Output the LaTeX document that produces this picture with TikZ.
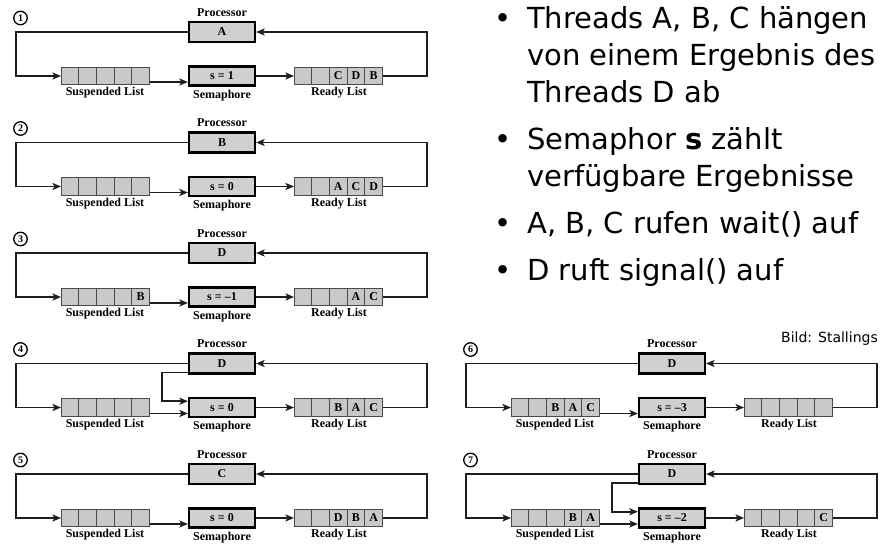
\documentclass[tikz,border=0pt]{standalone}
\usepackage{fontspec}
\setmainfont{Liberation Serif}
\newfontfamily\bfont{DejaVu Sans}
\usetikzlibrary{arrows.meta}
\definecolor{boxgray}{HTML}{D0D0D0}
\definecolor{cellgray}{HTML}{C8C8C8}
\definecolor{linegray}{HTML}{1E1E1E}
\definecolor{celledge}{HTML}{4A4A4A}
\tikzset{
  lbl/.style={font=\fontsize{12}{12}\selectfont\bfseries, inner sep=0pt},
  mainbox/.style={draw=black, line width=2.2pt, fill=boxgray, minimum width=66pt, minimum height=20pt, inner sep=0pt, font=\fontsize{12}{12}\selectfont\bfseries},
  cellbox/.style={draw=celledge, line width=0.9pt, fill=cellgray, minimum width=17.7pt, minimum height=17.5pt, inner sep=0pt, outer sep=0pt, font=\fontsize{12}{12}\selectfont\bfseries},
  conn/.style={draw=linegray, line width=1.7pt},
  arr/.style={conn, -{Stealth[length=8.5pt,width=7pt,inset=2pt]}},
  numcirc/.style={circle, draw=black, line width=1.3pt, minimum size=13.5pt, inner sep=0pt, font=\fontsize{10}{10}\selectfont\bfseries},
  btxt/.style={anchor=base west, inner sep=0pt, font=\fontsize{29}{29}\selectfont\bfont},
  bdot/.style={anchor=base, inner sep=0pt, font=\fontsize{29}{29}\selectfont\bfont},
}
\newcommand\cellrow[8]{%
  \node[cellbox, anchor=west] (#1c1) at (#2,#3) {#4};
  \node[cellbox, anchor=west] (#1c2) at (#1c1.east) {#5};
  \node[cellbox, anchor=west] (#1c3) at (#1c2.east) {#6};
  \node[cellbox, anchor=west] (#1c4) at (#1c3.east) {#7};
  \node[cellbox, anchor=west] (#1c5) at (#1c4.east) {#8};
}
\newcommand\sempanel[7]{%
  \begin{scope}[shift={(#2,#3)}]
    \node[numcirc] (p#1n) at (20.5,18) {#1};
    \node[lbl] (p#1pl) at (222,12.5) {Processor};
    \node[mainbox] (p#1proc) at (222,32) {#4};
    \node[mainbox, minimum height=19pt] (p#1sem) at (222,76) {#5};
    \cellrow{p#1s}{61}{76}#6
    \cellrow{p#1r}{294}{76}#7
    \node[lbl] (p#1sl) at (105,93) {Suspended List};
    \node[lbl] (p#1seml) at (222,95.5) {Semaphore};
    \node[lbl] (p#1rl) at (339,93) {Ready List};
    \coordinate (p#1L) at (16,32);
    \coordinate (p#1R) at (427,32);
    \coordinate (p#1I) at (162,69.7);
  \end{scope}
  \draw[arr] (p#1proc.west) -- (p#1L) |- (p#1sc1.west);
  \draw[arr] ([yshift=-6pt]p#1sc5.east) -- ([yshift=-6pt]p#1sem.west);
  \draw[arr] (p#1sem.east) -- (p#1rc1.west);
  \draw[arr] (p#1rc5.east) -| (p#1R) -- (p#1proc.east);
}
\newcommand\innerconn[1]{%
  \draw[arr] ([yshift=2pt]p#1proc.south west) -| (p#1I) -- ([yshift=6.3pt]p#1sem.west);
}
\begin{document}
\begin{tikzpicture}[x=1pt,y=-1pt]
  \fill[white] (0,0) rectangle (881,545);
  \useasboundingbox (0,0) rectangle (881,545);

  \sempanel{1}{0}{0}{A}{s = 1}{{}{}{}{}{}}{{}{}{C}{D}{B}}
  \sempanel{2}{0}{110.5}{B}{s = 0}{{}{}{}{}{}}{{}{}{A}{C}{D}}
  \sempanel{3}{0}{221}{D}{s = –1}{{}{}{}{}{B}}{{}{}{}{A}{C}}
  \sempanel{4}{0}{331.5}{D}{s = 0}{{}{}{}{}{}}{{}{}{B}{A}{C}}
  \innerconn{4}
  \sempanel{5}{0}{442}{C}{s = 0}{{}{}{}{}{}}{{}{}{D}{B}{A}}
  \sempanel{6}{450}{331.5}{D}{s = –3}{{}{}{B}{A}{C}}{{}{}{}{}{}}
  \sempanel{7}{450}{442}{D}{s = –2}{{}{}{}{B}{A}}{{}{}{}{}{C}}
  \innerconn{7}

  \node[bdot] (d1) at (503,29) {•};
  \node[btxt] (t1) at (527,29) {Threads A, B, C hängen};
  \node[btxt] (t2) at (527,66) {von einem Ergebnis des};
  \node[btxt] (t3) at (527,103) {Threads D ab};
  \node[bdot] (d2) at (503,150) {•};
  \node[btxt] (t4) at (527,150) {Semaphor {\bfseries s} zählt};
  \node[btxt] (t5) at (527,187) {verfügbare Ergebnisse};
  \node[bdot] (d3) at (503,234) {•};
  \node[btxt] (t6) at (527,234) {A, B, C rufen wait() auf};
  \node[bdot] (d4) at (503,281) {•};
  \node[btxt] (t7) at (527,281) {D ruft signal() auf};

  \node[anchor=base east, inner sep=0pt, font=\fontsize{14}{14}\selectfont\bfont] (bild) at (878,343) {Bild: Stallings};
\end{tikzpicture}
\end{document}
